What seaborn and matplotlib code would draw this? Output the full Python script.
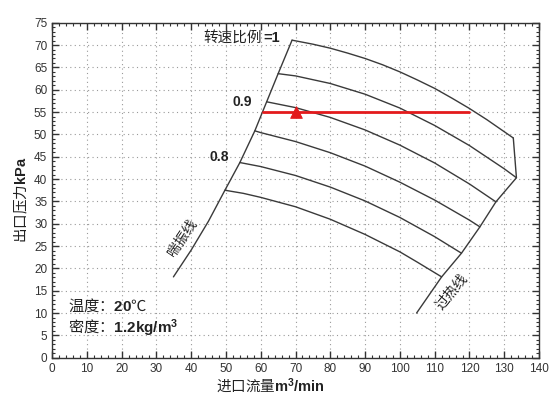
import matplotlib
matplotlib.use("Agg")
import matplotlib.pyplot as plt
import seaborn as sns
import pandas as pd

# speed-ratio curves (x: inlet flow m3/min, y: outlet pressure kPa)
curve_10_x = [69.0, 75, 80, 85, 90, 95, 100, 105, 110, 115, 120, 125, 132.6]
curve_10_y = [71.1, 70.2, 69.3, 68.2, 67.0, 65.6, 64.0, 62.2, 60.3, 58.1, 55.8, 53.3, 49.2]
curve_095_x = [65.0, 70, 80, 90, 100, 110, 120, 130, 133.5]
curve_095_y = [63.6, 63.1, 61.4, 59.0, 55.9, 52.0, 47.5, 42.3, 40.3]
curve_09_x = [61.7, 70, 80, 90, 100, 110, 120, 127.6]
curve_09_y = [57.3, 56.0, 53.8, 51.0, 47.6, 43.6, 38.9, 34.9]
curve_085_x = [58.3, 60, 70, 80, 90, 100, 110, 120, 123.0]
curve_085_y = [50.8, 50.4, 48.4, 45.9, 42.9, 39.3, 35.3, 30.8, 29.3]
curve_08_x = [54.0, 60, 70, 80, 90, 100, 110, 117.7]
curve_08_y = [43.7, 42.8, 40.8, 38.2, 35.1, 31.4, 27.1, 23.4]
curve_075_x = [49.7, 55, 60, 70, 80, 90, 100, 105, 112.0]
curve_075_y = [37.5, 36.8, 35.9, 33.8, 31.0, 27.6, 23.7, 21.4, 18.1]

# surge line and overheat line (with the short right edge)
surge_x = [34.9, 40.0, 45.0, 49.7, 54.0, 58.3, 61.7, 65.0, 69.0]
surge_y = [18.1, 24.1, 30.6, 37.5, 43.7, 50.8, 57.3, 63.6, 71.1]
overheat_x = [104.8, 112.0, 117.7, 123.0, 127.6, 133.5, 132.6]
overheat_y = [10.0, 18.1, 23.4, 29.3, 34.9, 40.3, 49.2]

# operating point
work_x = [60.7, 120.0]
work_y = [55.0, 55.0]
point_x = [70.0]
point_y = [55.0]

sns.set_style("ticks")
plt.rcParams['font.family'] = ['Liberation Sans', 'Noto Sans CJK SC', 'DejaVu Sans']
plt.rcParams['mathtext.fontset'] = 'custom'
plt.rcParams['mathtext.bf'] = 'Liberation Sans:bold'
plt.rcParams['mathtext.rm'] = 'Liberation Sans'

fig = plt.figure(figsize=(5.54, 3.95), dpi=100)
ax = fig.add_axes([0.0939, 0.0944, 0.8791, 0.848])

line_col = '#3a3a3a'
curves = [(curve_10_x, curve_10_y), (curve_095_x, curve_095_y), (curve_09_x, curve_09_y),
          (curve_085_x, curve_085_y), (curve_08_x, curve_08_y), (curve_075_x, curve_075_y),
          (surge_x, surge_y), (overheat_x, overheat_y)]
for cx, cy in curves:
    df = pd.DataFrame({'x': cx, 'y': cy})
    sns.lineplot(data=df, x='x', y='y', sort=False, estimator=None, color=line_col, linewidth=1.0, ax=ax)

sns.lineplot(x=work_x, y=work_y, sort=False, estimator=None, color='#e31a1c', linewidth=2.0, ax=ax)
sns.scatterplot(x=point_x, y=point_y, marker='^', s=70, color='#e31a1c', edgecolor='#e31a1c', ax=ax, zorder=5)

ax.set_xlim(0, 140)
ax.set_ylim(0, 75)
ax.set_xticks(range(0, 141, 10))
ax.set_yticks(range(0, 76, 5))
ax.set_xticks(range(0, 141, 2), minor=True)
ax.set_yticks(range(0, 76, 1), minor=True)
ax.tick_params(which='both', direction='in', top=True, right=True, colors='#333333', labelsize=8.5)
ax.tick_params(which='major', length=5, width=1)
ax.tick_params(which='minor', length=2.5, width=0.8)
for s in ax.spines.values():
    s.set_color('#333333')
    s.set_linewidth(1.0)
ax.grid(True, which='major', linestyle=(0, (1, 3)), color='#9a9a9a', linewidth=0.8)

cjk = 'Noto Sans CJK SC'
ax.set_xlabel('进口流量$\\mathbf{m^3/min}$', family=cjk, fontsize=10.5, color='#222222')
ax.set_ylabel('出口压力$\\mathbf{kPa}$', family=cjk, fontsize=10.5, color='#222222')
ax.xaxis.set_label_coords(0.448, -0.058)
ax.yaxis.set_label_coords(-0.045, 0.47)

ax.text(65.6, 71.6, '=1', fontsize=10.5, fontweight='bold', ha='right', va='center', color='#222222')
ax.annotate('转速比例', xy=(65.6, 71.6), xytext=(-13, 0), textcoords='offset points',
            family=cjk, fontsize=10.5, ha='right', va='center', color='#222222')
ax.text(54.6, 57.2, '0.9', fontsize=10, fontweight='bold', ha='center', va='center', color='#222222')
ax.text(48.0, 44.9, '0.8', fontsize=10, fontweight='bold', ha='center', va='center', color='#222222')
ax.text(37.5, 26.9, '喘振线', family=cjk, fontsize=10, rotation=56, ha='center', va='center', color='#222222')
ax.text(114.9, 14.8, '过热线', family=cjk, fontsize=10, rotation=50, ha='center', va='center', color='#222222')
ax.text(4.6, 11.6, '温度：$\\mathbf{20}$℃', family=cjk, fontsize=11, ha='left', va='center', color='#222222')
ax.text(4.6, 6.6, '密度：$\\mathbf{1.2kg/m^3}$', family=cjk, fontsize=11, ha='left', va='center', color='#222222')

fig.savefig('out.png', dpi=100)
